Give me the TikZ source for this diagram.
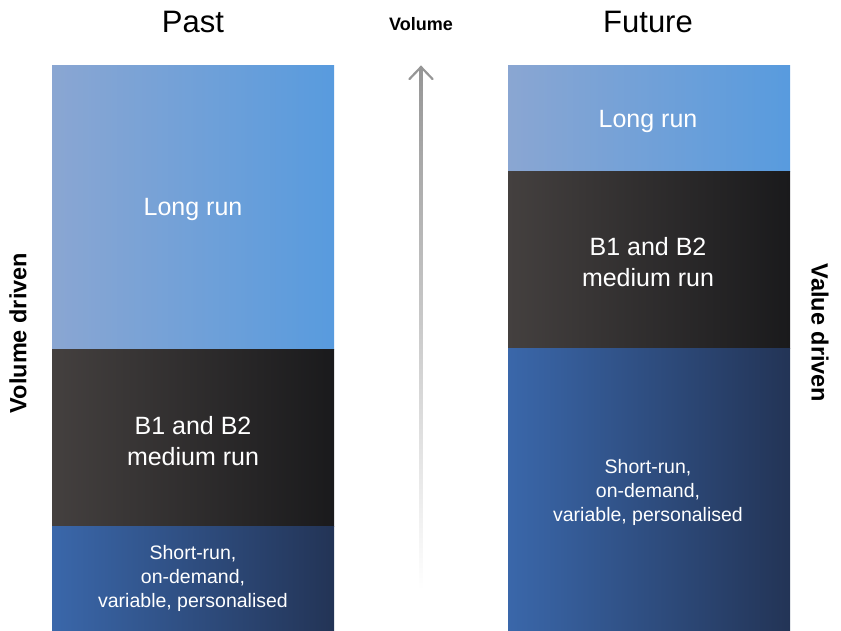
\documentclass[tikz,border=0pt]{standalone}
\usepackage{fontspec}
\setmainfont{Liberation Sans}
\definecolor{lrL}{RGB}{138,166,210}
\definecolor{lrR}{RGB}{88,155,222}
\definecolor{mdL}{RGB}{68,64,63}
\definecolor{mdR}{RGB}{26,26,28}
\definecolor{srL}{RGB}{58,103,170}
\definecolor{srR}{RGB}{35,52,86}
\definecolor{arrg}{RGB}{150,150,150}
\tikzset{
  blk/.style={inner sep=0pt, outer sep=0pt, minimum width=282pt, anchor=north west},
  longblk/.style={blk, left color=lrL, right color=lrR},
  medblk/.style={blk, left color=mdL, right color=mdR},
  shortblk/.style={blk, left color=srL, right color=srR},
  bigtxt/.style={text=white, align=center, inner sep=0pt, font=\fontsize{25}{31}\selectfont},
  smalltxt/.style={text=white, align=center, inner sep=0pt, font=\fontsize{19.5}{24}\selectfont},
  title/.style={font=\fontsize{31}{34}\selectfont, text=black},
  side/.style={font=\fontsize{23.5}{26}\selectfont\bfseries, text=black}
}
\begin{document}
\begin{tikzpicture}[x=1pt,y=-1pt]
\useasboundingbox (0,0) rectangle (841,631);
% Past column
\node[longblk, minimum height=283pt] (pl) at (52,66) {};
\node[medblk, minimum height=177pt] (pm) at (52,349) {};
\node[shortblk, minimum height=105pt] (ps) at (52,526) {};
\node[bigtxt] (plt) at (193,209) {Long run};
\node[bigtxt] (pmt) at (193,441) {B1 and B2\\medium run};
\node[smalltxt] (pst) at (193,578) {Short-run,\\on-demand,\\variable, personalised};
% Future column
\node[longblk, minimum height=106pt] (fl) at (508,66) {};
\node[medblk, minimum height=176pt] (fm) at (508,172) {};
\node[shortblk, minimum height=283pt] (fs) at (508,348) {};
\node[bigtxt] (flt) at (648,121) {Long run};
\node[bigtxt] (fmt) at (648,262) {B1 and B2\\medium run};
\node[smalltxt] (fst) at (648,492) {Short-run,\\on-demand,\\variable, personalised};
% titles
\node[title] (past) at (193,22) {Past};
\node[title] (future) at (648,22) {Future};
\node[font=\fontsize{18}{20}\selectfont\bfseries] (vol) at (421,24) {Volume};
\node[side, rotate=90] (vd) at (18,333) {Volume driven};
\node[side, rotate=-90] (vald) at (820,333) {Value driven};
% arrow
\coordinate (atip) at (421,67);
\coordinate (abot) at (421,590);
\shade[top color=arrg, bottom color=white, draw=none] (419.5,68) rectangle (422.5,590);
\draw[arrg, line width=2.2pt, line cap=round, line join=miter] (409.5,79) -- (atip) -- (432.5,79);
\end{tikzpicture}
\end{document}
